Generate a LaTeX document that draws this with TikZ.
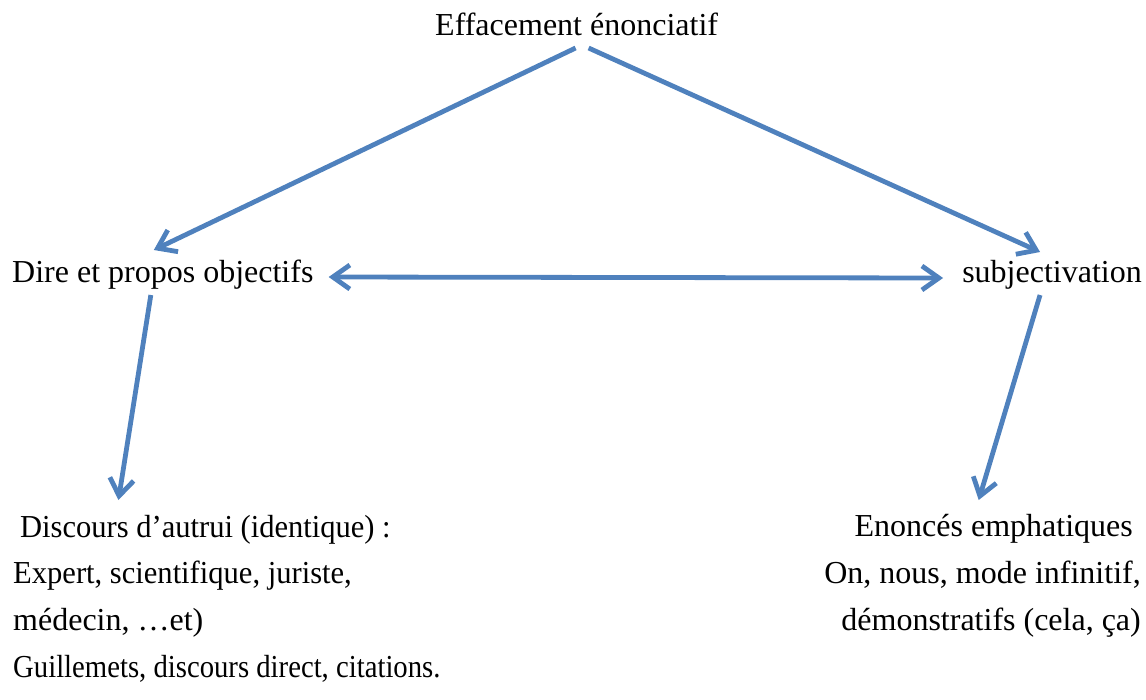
\documentclass[tikz,border=0pt]{standalone}
\usepackage{fontspec}
\usepackage{graphicx}
\setmainfont{Liberation Serif}
\usetikzlibrary{arrows.meta,calc}
\definecolor{arrowblue}{HTML}{4F81BD}
\begin{document}
\begin{tikzpicture}[x=1pt,y=-1pt,
  lbl/.style={inner sep=0pt,font=\fontsize{32}{38}\selectfont},
  barb/.tip={Straight Barb[length=17pt,width=24pt,line width=4.8pt]},
  arr/.style={draw=arrowblue,line width=4.8pt,-barb},
  dblarr/.style={draw=arrowblue,line width=4.8pt,barb-barb}]
\useasboundingbox (0,0) rectangle (1146,699);

% top concept
\node[lbl,anchor=base west] (eff) at (435,35) {Effacement énonciatif};

% second level
\node[lbl,anchor=base west] (dire) at (12,282) {Dire et propos objectifs};
\node[lbl,anchor=base east] (subj) at (1142,282) {subjectivation};

% left block (some lines set slightly condensed)
\node[lbl,anchor=base west] (disc) at (20,537) {\scalebox{0.954}[1]{Discours d’autrui (identique) :}};
\node[lbl,anchor=base west] (expt) at (13,583) {\scalebox{0.955}[1]{Expert, scientifique, juriste,}};
\node[lbl,anchor=base west] (medc) at (13,630) {médecin, …et)};
\node[lbl,anchor=base west] (guil) at (13,677) {\scalebox{0.897}[1]{Guillemets, discours direct, citations.}};

% right block
\node[lbl,anchor=base east] (enon) at (1133,536) {Enoncés emphatiques};
\node[lbl,anchor=base east] (onno) at (1141,583) {On, nous, mode infinitif,};
\node[lbl,anchor=base east] (demo) at (1141,630) {démonstratifs (cela, ça)};

% connectors
\draw[arr] ($(eff.base)+(-1,13)$) -- ($(dire.base)+(-9,-32)$);
\draw[arr] ($(eff.base)+(12,13)$) -- ($(subj.base)+(-12,-30)$);
\draw[dblarr] ($(dire.base east)+(15,-5)$) -- ($(subj.base west)+(-19,-4)$);
\draw[arr] ($(dire.base)+(-12,13)$) -- ($(disc.base)+(-87,-37)$);
\draw[arr] ($(subj.base)+(-12,13)$) -- ($(enon.base)+(-15,-36)$);
\end{tikzpicture}
\end{document}
